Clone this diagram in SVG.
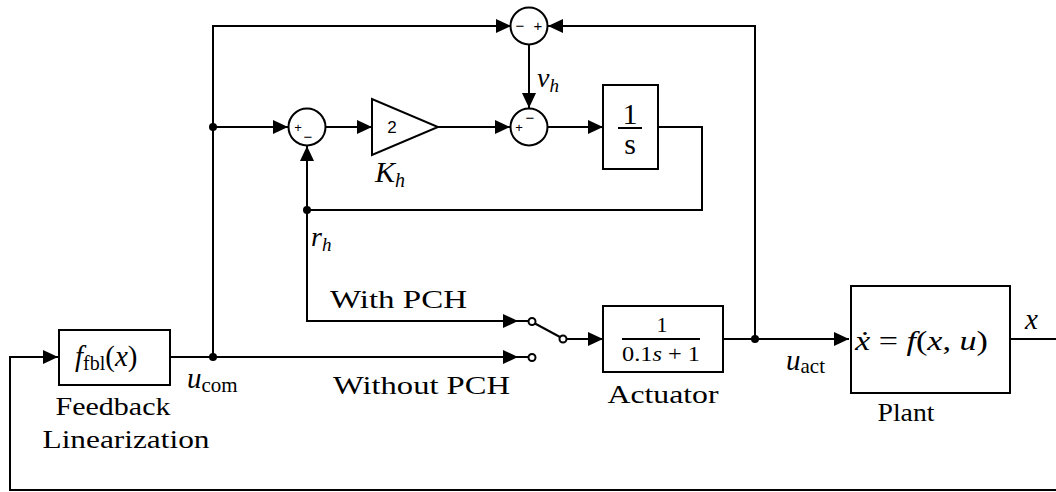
<svg xmlns="http://www.w3.org/2000/svg" width="1056" height="492" viewBox="0 0 1056 492">
<style>
.ln{fill:none;stroke:#000;stroke-width:2}
.bx{fill:#fff;stroke:#000;stroke-width:2}
.t{font-family:"Liberation Serif","DejaVu Serif",serif;fill:#000}
.m{font-family:"Liberation Serif","DejaVu Serif",serif;font-style:italic;fill:#000}
.s{font-family:"Liberation Sans",Arial,sans-serif;fill:#000}
.dot{fill:#000}
.sw{fill:#fff;stroke:#000;stroke-width:2}
</style>
<defs>
<marker id="ah" markerUnits="userSpaceOnUse" markerWidth="16" markerHeight="14" refX="15" refY="7" orient="auto">
<path d="M0,0 L15,7 L0,14 Z" fill="#000"/>
</marker>
</defs>
<g id="connectors">
<path class="ln" d="M1056,490 H10 V357 H58" marker-end="url(#ah)"/>
<path class="ln" d="M170,357 H518" marker-end="url(#ah)"/>
<path class="ln" d="M517,357 H528.5"/>
<path class="ln" d="M213,357 V26 H511" marker-end="url(#ah)"/>
<path class="ln" d="M213,127 H288" marker-end="url(#ah)"/>
<path class="ln" d="M326,127 H372" marker-end="url(#ah)"/>
<path class="ln" d="M438,127 H510" marker-end="url(#ah)"/>
<path class="ln" d="M548,127 H603" marker-end="url(#ah)"/>
<path class="ln" d="M658,127 H702 V210 H307"/>
<path class="ln" d="M307,210 V146" marker-end="url(#ah)"/>
<path class="ln" d="M307,210 V321 H518" marker-end="url(#ah)"/>
<path class="ln" d="M517,321 H528.5"/>
<path class="ln" d="M529,45 V108" marker-end="url(#ah)"/>
<path class="ln" d="M723,339 H849" marker-end="url(#ah)"/>
<path class="ln" d="M755,339 V26 H548" marker-end="url(#ah)"/>
<path class="ln" d="M535,323.5 L560,337"/>
<path class="ln" d="M566.5,339 H603" marker-end="url(#ah)"/>
<path class="ln" d="M1010,339 H1056"/>
<circle class="dot" cx="213" cy="357" r="4"/>
<circle class="dot" cx="213" cy="127" r="4"/>
<circle class="dot" cx="307" cy="210" r="4"/>
<circle class="dot" cx="755" cy="339" r="4"/>
</g>
<g id="switch">
<circle class="sw" cx="532" cy="321.5" r="3.5"/>
<circle class="sw" cx="532" cy="357.5" r="3.5"/>
<circle class="sw" cx="563" cy="339" r="3.5"/>
<text class="t" x="330" y="308" font-size="26" textLength="137" lengthAdjust="spacingAndGlyphs">With PCH</text>
<text class="t" x="333" y="394" font-size="26" textLength="177" lengthAdjust="spacingAndGlyphs">Without PCH</text>
</g>
<g id="feedback-linearization">
<rect class="bx" x="59" y="330" width="111" height="55"/>
<text x="75" y="366" font-size="29"><tspan class="m">f</tspan><tspan class="t" font-size="20" dy="4">fbl</tspan><tspan class="t" dy="-4">(</tspan><tspan class="m">x</tspan><tspan class="t">)</tspan></text>
<text class="t" x="113" y="415" font-size="26" text-anchor="middle" textLength="115" lengthAdjust="spacingAndGlyphs">Feedback</text>
<text class="t" x="126" y="448" font-size="26" text-anchor="middle" textLength="167" lengthAdjust="spacingAndGlyphs">Linearization</text>
<text x="187" y="388" font-size="29"><tspan class="m">u</tspan><tspan class="t" font-size="21" dy="4">com</tspan></text>
</g>
<g id="sum-top">
<circle class="bx" cx="529" cy="26" r="18.5"/>
<text class="s" x="520" y="31" font-size="15" text-anchor="middle">−</text>
<text class="s" x="538" y="31" font-size="15" text-anchor="middle">+</text>
<text x="537" y="87" font-size="28"><tspan class="m">v</tspan><tspan class="m" font-size="19" dy="5">h</tspan></text>
</g>
<g id="sum-inner">
<circle class="bx" cx="307" cy="127" r="18.5"/>
<text class="s" x="298" y="132" font-size="13" text-anchor="middle">+</text>
<text class="s" x="308" y="142" font-size="15" text-anchor="middle">−</text>
</g>
<g id="gain">
<polygon class="bx" points="372,99 372,155 438,127"/>
<text class="s" x="392" y="133" font-size="17" text-anchor="middle">2</text>
<text x="375" y="182" font-size="30"><tspan class="m">K</tspan><tspan class="m" font-size="20" dy="5">h</tspan></text>
</g>
<g id="sum-mid">
<circle class="bx" cx="529" cy="127" r="18.5"/>
<text class="s" x="519" y="132" font-size="13" text-anchor="middle">+</text>
<text class="s" x="530" y="123" font-size="15" text-anchor="middle">−</text>
</g>
<g id="integrator">
<rect class="bx" x="603" y="85" width="55" height="84"/>
<text class="t" x="630" y="124" font-size="30" text-anchor="middle">1</text>
<line class="ln" x1="618" y1="128" x2="642" y2="128" stroke-width="1.6"/>
<text class="t" x="630" y="154" font-size="30" text-anchor="middle">s</text>
</g>
<g id="rh-label">
<text x="311" y="246" font-size="28"><tspan class="m">r</tspan><tspan class="m" font-size="19" dy="5">h</tspan></text>
</g>
<g id="actuator">
<rect class="bx" x="603" y="306" width="120" height="66"/>
<text class="t" x="662" y="332" font-size="22" text-anchor="middle">1</text>
<line class="ln" x1="622" y1="339" x2="700" y2="339" stroke-width="1.6"/>
<text x="661" y="361" font-size="22" text-anchor="middle" textLength="78" lengthAdjust="spacingAndGlyphs"><tspan class="t">0.1</tspan><tspan class="m">s</tspan><tspan class="t"> + 1</tspan></text>
<text class="t" x="663" y="403" font-size="26" text-anchor="middle" textLength="111" lengthAdjust="spacingAndGlyphs">Actuator</text>
<text x="786" y="370" font-size="29"><tspan class="m">u</tspan><tspan class="t" font-size="21" dy="3">act</tspan></text>
</g>
<g id="plant">
<rect class="bx" x="851" y="286" width="159" height="107"/>
<text x="855" y="350" font-size="28" textLength="133" lengthAdjust="spacingAndGlyphs"><tspan class="m">ẋ</tspan><tspan class="t"> = </tspan><tspan class="m">f</tspan><tspan class="t">(</tspan><tspan class="m">x</tspan><tspan class="t">, </tspan><tspan class="m">u</tspan><tspan class="t">)</tspan></text>
<text class="t" x="906" y="421" font-size="26" text-anchor="middle" textLength="57" lengthAdjust="spacingAndGlyphs">Plant</text>
<text class="m" x="1025" y="329" font-size="29">x</text>
</g>
</svg>
